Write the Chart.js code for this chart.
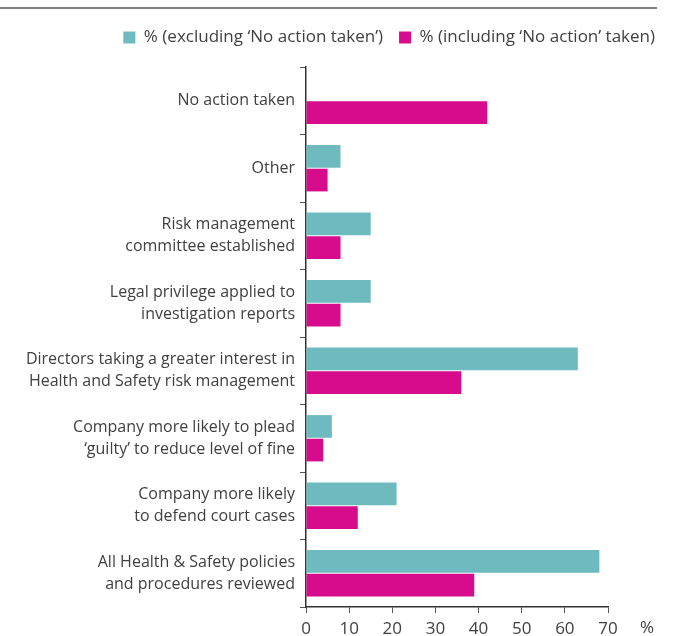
<!DOCTYPE html>
<html>
<head>
<meta charset="utf-8">
<script src="https://cdn.jsdelivr.net/npm/chart.js@4/dist/chart.umd.min.js"></script>
<style>
  html, body { margin: 0; padding: 0; background: #fff; }
  #wrap { position: relative; width: 680px; height: 636px; }
</style>
</head>
<body>
<div id="wrap"><canvas id="chart"></canvas></div>
<script>
// -------------------------------------------------------------------
// Data
// -------------------------------------------------------------------
const categories = [
  "No action taken",
  "Other",
  ["Risk management", "committee established"],
  ["Legal privilege applied to", "investigation reports"],
  ["Directors taking a greater interest in", "Health and Safety risk management"],
  ["Company more likely to plead", "\u2018guilty\u2019 to reduce level of fine"],
  ["Company more likely", "to defend court cases"],
  ["All Health & Safety policies", "and procedures reviewed"]
];
const excludingNoAction = [null, 8, 15, 15, 63, 6, 21, 68];
const includingNoAction = [42, 5, 8, 8, 36, 4, 12, 39];
const xTicks = [0, 10, 20, 30, 40, 50, 60, 70];

const seriesNames = [
  "% (excluding \u2018No action taken\u2019)",
  "% (including \u2018No action\u2019 taken)"
];

const TEAL = "#6ebbbf";
const PINK = "#d70c8c";
const TEXT = "#3f3f3f";
const FONT = "'Open Sans', sans-serif";

// -------------------------------------------------------------------
// Extras: top rule, "%" unit label, legend moved up / to the right edge
// -------------------------------------------------------------------
const extras = {
  id: "extras",
  afterLayout(chart) {
    const lg = chart.legend;
    lg.right = chart.width - 9;
    lg.top -= 11;
    lg.bottom -= 11;
  },
  afterDraw(chart) {
    const ctx = chart.ctx;
    const x = chart.scales.x;
    ctx.save();
    ctx.strokeStyle = "#555";
    ctx.lineWidth = 1.5;
    ctx.beginPath();
    ctx.moveTo(0, 8);
    ctx.lineTo(657, 8);
    ctx.stroke();
    ctx.fillStyle = TEXT;
    ctx.font = "17px " + FONT;
    ctx.textAlign = "center";
    ctx.textBaseline = "middle";
    ctx.fillText("%", x.right + 39, x.top + 21);
    ctx.restore();
  }
};

// -------------------------------------------------------------------
// Chart
// -------------------------------------------------------------------
new Chart(document.getElementById("chart"), {
  type: "bar",
  data: {
    labels: categories,
    datasets: [
      {
        label: seriesNames[0],
        data: excludingNoAction,
        backgroundColor: TEAL,
        categoryPercentage: 0.7,
        barPercentage: 0.96
      },
      {
        label: seriesNames[1],
        data: includingNoAction,
        backgroundColor: PINK,
        categoryPercentage: 0.7,
        barPercentage: 0.96
      }
    ]
  },
  options: {
    indexAxis: "y",
    responsive: true,
    maintainAspectRatio: false,
    animation: false,
    layout: { padding: { top: 24, right: 72, bottom: 0, left: 0 } },
    plugins: {
      legend: {
        position: "top",
        align: "end",
        labels: {
          boxWidth: 12,
          boxHeight: 12,
          padding: 16,
          color: TEXT,
          font: { family: FONT, size: 17 }
        }
      },
      tooltip: { enabled: false }
    },
    scales: {
      x: {
        min: 0,
        max: 70,
        afterBuildTicks: s => { s.ticks = xTicks.map(v => ({ value: v })); },
        afterFit: s => { s.height = 29; },
        grid: { drawOnChartArea: false, tickLength: 6, color: "#555" },
        border: { color: "#333", width: 1.5 },
        ticks: { color: TEXT, padding: 8, font: { family: FONT, size: 17, lineHeight: 1 } }
      },
      y: {
        afterFit: s => { s.width = 306; },
        grid: { offset: true, drawOnChartArea: false, tickLength: 6, color: "#555" },
        border: { color: "#333", width: 1.5 },
        ticks: {
          color: TEXT,
          padding: 5,
          font: { family: FONT, size: 16, lineHeight: 1.375 }
        }
      }
    }
  },
  plugins: [extras]
});
</script>
</body>
</html>
